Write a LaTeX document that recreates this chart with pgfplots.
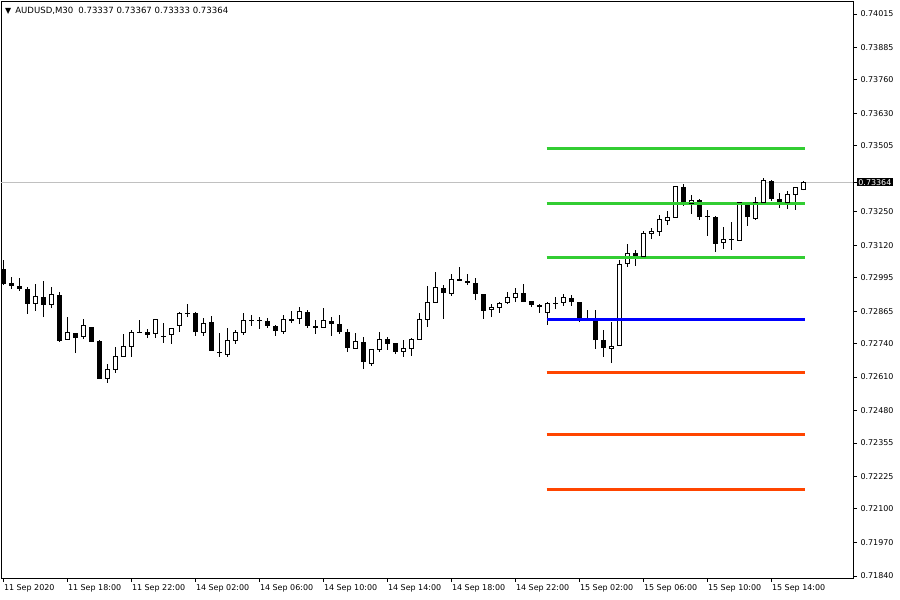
\documentclass[border=0pt]{standalone}
\usepackage{fontspec}
\setmainfont{DejaVu Sans}
\usepackage{pgfplots}
\pgfplotsset{compat=1.18}
\usepackage{pgfplotstable}
\usetikzlibrary{calc}
\definecolor{mtgreen}{RGB}{50,205,50}
\definecolor{mtred}{RGB}{255,69,0}
\definecolor{mtblue}{RGB}{0,0,255}
\definecolor{mtgrey}{RGB}{192,192,192}

% bullish (and doji) candles: bar index, open, high, low, close
\pgfplotstableread{
n O H L C
5 0.72893 0.72970 0.72866 0.72920
7 0.72889 0.72958 0.72877 0.72928
9 0.72757 0.72842 0.72757 0.72781
11 0.72765 0.72835 0.72757 0.72808
14 0.72606 0.72661 0.72587 0.72641
15 0.72641 0.72726 0.72626 0.72688
16 0.72688 0.72777 0.72688 0.72730
17 0.72730 0.72792 0.72688 0.72784
18 0.72784 0.72831 0.72781 0.72784
20 0.72777 0.72835 0.72761 0.72831
22 0.72773 0.72796 0.72738 0.72796
23 0.72808 0.72862 0.72784 0.72854
24 0.72854 0.72893 0.72842 0.72854
26 0.72784 0.72839 0.72769 0.72819
29 0.72699 0.72800 0.72688 0.72750
30 0.72753 0.72792 0.72738 0.72781
31 0.72784 0.72858 0.72773 0.72827
32 0.72827 0.72850 0.72808 0.72827
33 0.72827 0.72842 0.72796 0.72827
36 0.72788 0.72850 0.72777 0.72831
38 0.72835 0.72881 0.72815 0.72862
41 0.72800 0.72877 0.72800 0.72827
45 0.72722 0.72781 0.72719 0.72746
47 0.72664 0.72719 0.72653 0.72715
48 0.72715 0.72784 0.72707 0.72757
51 0.72707 0.72753 0.72688 0.72722
52 0.72722 0.72761 0.72692 0.72757
53 0.72757 0.72858 0.72757 0.72831
54 0.72831 0.72962 0.72804 0.72900
55 0.72900 0.73017 0.72900 0.72955
57 0.72935 0.73009 0.72924 0.72986
58 0.72982 0.73036 0.72982 0.72986
62 0.72873 0.72893 0.72842 0.72881
63 0.72881 0.72900 0.72858 0.72893
64 0.72897 0.72939 0.72893 0.72916
65 0.72916 0.72955 0.72900 0.72935
69 0.72858 0.72900 0.72812 0.72893
71 0.72900 0.72931 0.72885 0.72916
77 0.72722 0.72823 0.72664 0.72730
78 0.72734 0.73063 0.72734 0.73044
79 0.73048 0.73125 0.73036 0.73090
81 0.73078 0.73175 0.73075 0.73167
82 0.73167 0.73187 0.73144 0.73175
83 0.73175 0.73237 0.73156 0.73218
84 0.73214 0.73253 0.73198 0.73226
85 0.73229 0.73346 0.73229 0.73346
87 0.73280 0.73315 0.73241 0.73295
91 0.73129 0.73191 0.73106 0.73144
92 0.73144 0.73210 0.73102 0.73144
93 0.73140 0.73284 0.73140 0.73284
95 0.73222 0.73307 0.73218 0.73284
96 0.73284 0.73380 0.73284 0.73369
99 0.73287 0.73330 0.73260 0.73318
100 0.73318 0.73342 0.73257 0.73342
101 0.73337 0.73367 0.73333 0.73364
}\bull

% bearish candles
\pgfplotstableread{
n O H L C
1 0.73028 0.73063 0.72966 0.72970
2 0.72974 0.72997 0.72951 0.72962
3 0.72962 0.72993 0.72943 0.72951
4 0.72951 0.72958 0.72854 0.72893
6 0.72920 0.72982 0.72842 0.72889
8 0.72928 0.72939 0.72746 0.72750
10 0.72781 0.72781 0.72703 0.72761
12 0.72804 0.72804 0.72746 0.72746
13 0.72750 0.72753 0.72602 0.72602
19 0.72784 0.72796 0.72761 0.72773
21 0.72769 0.72819 0.72742 0.72765
25 0.72858 0.72862 0.72769 0.72784
27 0.72823 0.72846 0.72711 0.72711
28 0.72707 0.72781 0.72688 0.72703
34 0.72827 0.72839 0.72800 0.72808
35 0.72808 0.72812 0.72769 0.72788
37 0.72835 0.72866 0.72819 0.72827
39 0.72862 0.72870 0.72800 0.72808
40 0.72808 0.72831 0.72777 0.72800
42 0.72827 0.72842 0.72769 0.72815
43 0.72815 0.72850 0.72777 0.72784
44 0.72784 0.72796 0.72707 0.72722
46 0.72746 0.72765 0.72641 0.72668
49 0.72757 0.72765 0.72715 0.72738
50 0.72742 0.72742 0.72699 0.72707
56 0.72955 0.72966 0.72835 0.72935
59 0.72982 0.73009 0.72966 0.72974
60 0.72974 0.72993 0.72908 0.72931
61 0.72931 0.72931 0.72835 0.72866
66 0.72935 0.72970 0.72900 0.72900
67 0.72904 0.72904 0.72881 0.72889
68 0.72889 0.72893 0.72858 0.72881
70 0.72897 0.72920 0.72873 0.72893
72 0.72916 0.72928 0.72885 0.72900
73 0.72900 0.72900 0.72823 0.72835
74 0.72839 0.72870 0.72835 0.72835
75 0.72831 0.72870 0.72719 0.72753
76 0.72753 0.72792 0.72688 0.72722
80 0.73090 0.73102 0.73040 0.73078
86 0.73346 0.73357 0.73272 0.73287
88 0.73295 0.73299 0.73218 0.73229
89 0.73233 0.73257 0.73156 0.73229
90 0.73229 0.73233 0.73094 0.73125
94 0.73284 0.73284 0.73195 0.73229
97 0.73369 0.73373 0.73291 0.73299
98 0.73299 0.73322 0.73264 0.73287
}\bear

\begin{document}
\begin{tikzpicture}
\begin{axis}[
  scale only axis, width=852bp, height=577bp,
  xmin=0.75, xmax=107.25, ymin=0.718323, ymax=0.740653,
  axis line style={black, line width=0.8bp},
  xtick={1,9,17,25,33,41,49,57,65,73,81,89,97},
  xticklabels={11 Sep 2020,11 Sep 18:00,11 Sep 22:00,14 Sep 02:00,14 Sep 06:00,14 Sep 10:00,14 Sep 14:00,14 Sep 18:00,14 Sep 22:00,15 Sep 02:00,15 Sep 06:00,15 Sep 10:00,15 Sep 14:00},
  ytick={0.71840,0.71970,0.72100,0.72225,0.72355,0.72480,0.72610,0.72740,0.72865,0.72995,0.73120,0.73250,0.73505,0.73630,0.73760,0.73885,0.74015},
  yticklabels={0.71840,0.71970,0.72100,0.72225,0.72355,0.72480,0.72610,0.72740,0.72865,0.72995,0.73120,0.73250,0.73505,0.73630,0.73760,0.73885,0.74015},
  xtick pos=bottom, ytick pos=right, yticklabel pos=right,
  tick align=outside, major tick length=4bp,
  tick style={black, line width=0.8bp},
  tick label style={font=\fontsize{8}{9}\selectfont, text=black},
  xticklabel style={anchor=north west, xshift=-2.5bp, yshift=1bp},
  yticklabel style={anchor=west, xshift=0bp},
  extra y ticks={0.73364}, extra y tick labels={0.73364},
  extra y tick style={grid=major, major grid style={mtgrey, line width=0.8bp},
     tick label style={fill=black, text=white, inner sep=1.2bp}},
]
% wicks
\addplot[draw=none, mark=none, error bars/.cd, y dir=plus, y explicit, error mark=none,
  error bar style={draw=black, line width=1bp}]
  table[x=n, y=L, y error plus expr=\thisrow{H}-\thisrow{L}] {\bull};
\addplot[draw=none, mark=none, error bars/.cd, y dir=plus, y explicit, error mark=none,
  error bar style={draw=black, line width=1bp}]
  table[x=n, y=L, y error plus expr=\thisrow{H}-\thisrow{L}] {\bear};
% bearish bodies
\addplot[draw=none, mark=none, error bars/.cd, y dir=plus, y explicit, error mark=none,
  error bar style={draw=black, line width=5bp}]
  table[x=n, y=C, y error plus expr=\thisrow{O}-\thisrow{C}] {\bear};
% bullish bodies
\addplot[draw=none, mark=none, error bars/.cd, y dir=plus, y explicit, error mark=none,
  error bar style={draw=black, line width=5bp}]
  table[x=n, y=O, y error plus expr=\thisrow{C}-\thisrow{O}] {\bull};
\addplot[draw=none, mark=none, error bars/.cd, y dir=plus, y explicit, error mark=none,
  error bar style={draw=white, line width=3bp}]
  table[x=n, y=O, y error plus expr=\thisrow{C}-\thisrow{O}] {\bull};
\addplot[only marks, mark=-, mark size=2.5bp, mark options={draw=black, line width=1bp}]
  table[x=n, y=O] {\bull};
\addplot[only marks, mark=-, mark size=2.5bp, mark options={draw=black, line width=1bp}]
  table[x=n, y=C] {\bull};
% pivot levels
\addplot[mtgreen, line width=3bp, mark=none] coordinates {(68.94,0.73496) (101.19,0.73496)};
\addplot[mtgreen, line width=3bp, mark=none] coordinates {(68.94,0.73282) (101.19,0.73282)};
\addplot[mtgreen, line width=3bp, mark=none] coordinates {(68.94,0.73073) (101.19,0.73073)};
\addplot[mtblue, line width=3bp, mark=none] coordinates {(68.94,0.72834) (101.19,0.72834)};
\addplot[mtred, line width=3bp, mark=none] coordinates {(68.94,0.72626) (101.19,0.72626)};
\addplot[mtred, line width=3bp, mark=none] coordinates {(68.94,0.72386) (101.19,0.72386)};
\addplot[mtred, line width=3bp, mark=none] coordinates {(68.94,0.72173) (101.19,0.72173)};
\node[anchor=north west, inner sep=0pt, font=\fontsize{8.6}{10}\selectfont, xshift=4bp, yshift=-5.5bp]
  at (rel axis cs:0,1) {{\fontsize{8}{8}\selectfont ▼}\hspace{4bp}AUDUSD,M30\hspace{5bp}0.73337 0.73367 0.73333 0.73364};
\end{axis}
\pgfresetboundingbox
\path ($(current axis.south west)+(-1bp,-22bp)$) rectangle ($(current axis.north east)+(47bp,1bp)$);
\end{tikzpicture}
\end{document}
